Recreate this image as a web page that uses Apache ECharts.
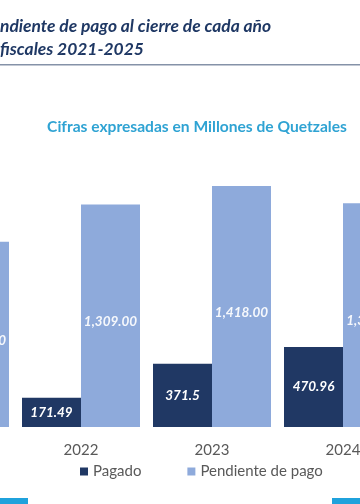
<!DOCTYPE html>
<html>
<head>
<meta charset="utf-8">
<script src="https://cdn.jsdelivr.net/npm/echarts@6/dist/echarts.min.js"></script>
<style>html,body{margin:0;padding:0;background:#fff}#c{width:360px;height:504px}</style>
</head>
<body>
<div id="c"></div>
<script>
var categories = ['2021', '2022', '2023', '2024', '2025'];
var pagado = [118.2, 171.49, 371.5, 470.96, 310.4];
var pendiente = [1090.00, 1309.00, 1418.00, 1316.00, 1210.00];
var seriesNames = ['Pagado', 'Pendiente de pago'];
var titleLine1 = 'ndiente de pago al cierre de cada año';
var titleLine2 = 'fiscales 2021-2025';
var subtitle = 'Cifras expresadas en Millones de Quetzales';

var chart = echarts.init(document.getElementById('c'), null, {renderer: 'canvas'});
function fmtPend(v) {
  return v.toLocaleString('en-US', {minimumFractionDigits: 2, maximumFractionDigits: 2});
}
var option = {
  animation: false,
  backgroundColor: '#ffffff',
  grid: {left: -115.5, right: -179.5, top: 87, bottom: 77, containLabel: false, outerBoundsMode: 'none'},
  xAxis: {
    type: 'category',
    data: categories,
    axisLine: {show: false},
    axisTick: {show: false},
    axisLabel: {color: '#595959', fontFamily: 'Lato', fontSize: 15, margin: 16}
  },
  yAxis: {
    type: 'value', min: 0, max: 2000, show: false,
    splitLine: {show: false}
  },
  legend: {
    data: seriesNames,
    left: 75, top: 459,
    icon: 'rect', itemWidth: 8, itemHeight: 8, itemGap: 46,
    textStyle: {color: '#595959', fontFamily: 'Lato', fontSize: 15}
  },
  series: [
    {
      name: seriesNames[0], type: 'bar', data: pagado,
      barWidth: 59, barGap: '0%',
      itemStyle: {color: '#203864'},
      label: {show: true, position: 'inside', color: '#ffffff', fontFamily: 'Lato',
        fontStyle: 'italic', fontWeight: 'bold', fontSize: 13.5}
    },
    {
      name: seriesNames[1], type: 'bar', data: pendiente,
      barWidth: 59, barGap: '0%',
      itemStyle: {color: '#8eaadb'},
      label: {show: true, position: 'inside', offset: [0, 6], color: 'rgba(255,255,255,0.92)', fontFamily: 'Lato',
        fontStyle: 'italic', fontWeight: 'bold', fontSize: 13.5,
        formatter: function (p) { return fmtPend(p.value); }}
    }
  ],
  graphic: [
    {type: 'text', x: 0, y: 18, style: {text: titleLine1, fill: '#1f3864',
      font: 'italic bold 17.4px Lato'}},
    {type: 'text', x: 0, y: 41, style: {text: titleLine2, fill: '#1f3864',
      font: 'italic bold 17.4px Lato'}},
    {type: 'rect', shape: {x: 0, y: 64, width: 360, height: 1.5}, style: {fill: '#8592a8'}},
    {type: 'text', x: 197, y: 119, style: {text: subtitle, fill: '#2fa3d3', textAlign: 'center',
      font: 'bold 15.6px Lato'}},
    {type: 'rect', shape: {x: 0, y: 498, width: 28, height: 6}, style: {fill: '#1fa2dc'}},
    {type: 'rect', shape: {x: 332, y: 498, width: 28, height: 6}, style: {fill: '#1fa2dc'}}
  ]
};
chart.setOption(option);
</script>
</body>
</html>
